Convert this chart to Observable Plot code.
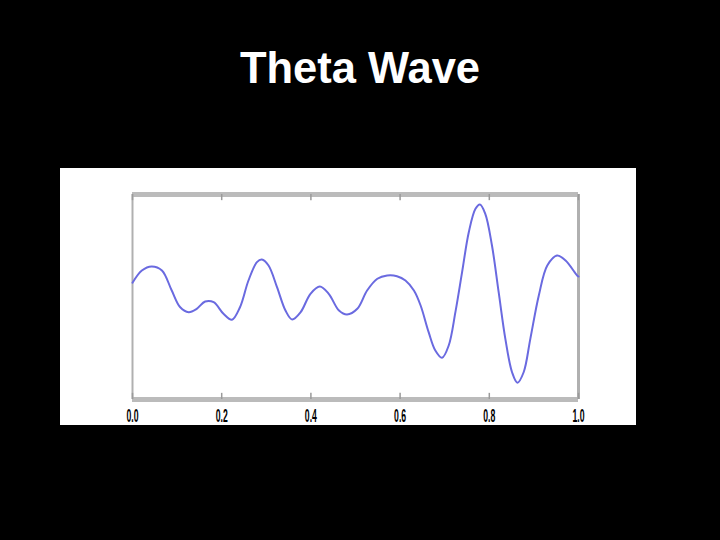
<!DOCTYPE html>
<html>
<head>
<meta charset="utf-8">
<script src="https://cdn.jsdelivr.net/npm/d3@7"></script>
<script src="https://cdn.jsdelivr.net/npm/@observablehq/plot@0.6"></script>
<style>
  html, body { margin: 0; padding: 0; background: #000; }
  body { width: 720px; height: 540px; position: relative; overflow: hidden; }
  #title { position: absolute; left: 0; top: 46px; width: 720px; text-align: center;
    font-family: "Liberation Sans", Arial, sans-serif; font-weight: bold; font-size: 43.5px; line-height: 44px; color: #fff; }
  #chart { position: absolute; left: 60px; top: 168px; width: 576px; height: 257px; overflow: visible; background: #fff; }
  #chart svg { display: block; overflow: visible; }
</style>
</head>
<body>
<div id="title">Theta Wave</div>
<div id="chart"></div>
<script>
const titleText = "Theta Wave";
const xTicks = [0.0, 0.2, 0.4, 0.6, 0.8, 1.0];
const xDomain = [0, 1];
const yDomain = [-1, 1];
const time = [0, 0.021, 0.043, 0.066, 0.088, 0.107, 0.126, 0.144, 0.163, 0.182, 0.204, 0.223, 0.241, 0.260, 0.279, 0.290, 0.305, 0.324, 0.343, 0.358, 0.377, 0.399, 0.420, 0.440, 0.463, 0.481, 0.504, 0.526, 0.549, 0.571, 0.593, 0.612, 0.631, 0.646, 0.664, 0.679, 0.694, 0.709, 0.724, 0.739, 0.754, 0.769, 0.779, 0.791, 0.806, 0.821, 0.836, 0.851, 0.863, 0.877, 0.892, 0.911, 0.930, 0.952, 0.971, 0.997, 1.0];
const amplitude = [0.139, 0.259, 0.298, 0.259, 0.063, -0.100, -0.148, -0.115, -0.044, -0.051, -0.164, -0.222, -0.100, 0.161, 0.340, 0.366, 0.307, 0.096, -0.132, -0.220, -0.148, 0.031, 0.102, 0.031, -0.132, -0.171, -0.115, 0.063, 0.178, 0.210, 0.203, 0.161, 0.063, -0.083, -0.343, -0.522, -0.593, -0.473, -0.148, 0.242, 0.632, 0.860, 0.902, 0.812, 0.502, 0.047, -0.408, -0.734, -0.837, -0.734, -0.408, 0.015, 0.307, 0.405, 0.356, 0.210, 0.200];

const wave = time.map((t, i) => ({t, v: amplitude[i]}));

const chart = Plot.plot({
  width: 576,
  height: 257,
  marginLeft: 72,
  marginRight: 58,
  marginTop: 26,
  marginBottom: 26,
  style: {background: "#fff", fontFamily: "Liberation Sans, Arial, sans-serif", overflow: "visible"},
  x: {domain: xDomain, ticks: xTicks, label: null},
  y: {domain: yDomain, axis: null},
  marks: [
    Plot.ruleY([yDomain[1]], {stroke: "#bbbbbb", strokeWidth: 5}),
    Plot.ruleY([yDomain[0]], {stroke: "#bbbbbb", strokeWidth: 5}),
    Plot.ruleX([xDomain[0]], {stroke: "#b0b0b0", strokeWidth: 2}),
    Plot.ruleX([xDomain[1]], {stroke: "#b0b0b0", strokeWidth: 3}),
    Plot.ruleX(xTicks, {y1: yDomain[0], y2: yDomain[0] + 0.06, stroke: "#9a9a9a", strokeWidth: 1.5}),
    Plot.ruleX(xTicks, {y1: yDomain[1], y2: yDomain[1] - 0.06, stroke: "#9a9a9a", strokeWidth: 1.5}),
    Plot.axisX(xTicks, {anchor: "bottom", label: null, tickSize: 0, tickPadding: 10, tickFormat: d3.format(".1f"), fontSize: 14, fontWeight: "bold", fill: "#000"}),
    Plot.line(wave, {x: "t", y: "v", stroke: "#6a6ae0", strokeWidth: 2, curve: "catmull-rom"})
  ]
});

d3.select(chart).selectAll('g[aria-label="x-axis tick label"] text').each(function() {
  const tr = this.getAttribute("transform") || "";
  this.setAttribute("transform", tr + " scale(0.62,1.3)");
});

document.getElementById("chart").appendChild(chart);
</script>
</body>
</html>
